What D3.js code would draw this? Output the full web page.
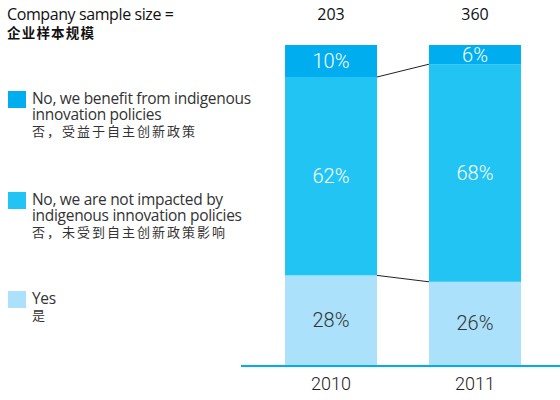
<!DOCTYPE html>
<html>
<head>
<meta charset="utf-8">
<script src="https://cdn.jsdelivr.net/npm/d3@7"></script>
<style>
  body { margin: 0; background: #fff; }
  svg { font-family: "Open Sans", "Noto Sans", sans-serif; }
  .cjk { font-family: "Noto Sans CJK SC", sans-serif; }
</style>
</head>
<body>
<div class="chart"></div>
<script>
// data
const years = ['2010', '2011']
const sampleSizes = [203, 360]
const yesVals = [28, 26]
const notImpactedVals = [62, 68]
const benefitVals = [10, 6]

const seriesKeys = ['yes', 'notImpacted', 'benefit']
const seriesColors = ['#abe1fa', '#21c4f3', '#00aeef']
const labelColors = ['#333333', '#ffffff', '#ffffff']
const legendEn = [
    ['Yes'],
    ['No, we are not impacted by', 'indigenous innovation policies'],
    ['No, we benefit from indigenous', 'innovation policies']
]
const legendZh = ['是', '否，未受到自主创新政策影响', '否，受益于自主创新政策']

const width = 560
const height = 400

const svg = d3.select('.chart')
    .append('svg')
    .attr('width', width)
    .attr('height', height)

const rows = years.map((yr, i) => ({
    year: yr,
    yes: yesVals[i],
    notImpacted: notImpactedVals[i],
    benefit: benefitVals[i]
}))
const stacked = d3.stack().keys(seriesKeys)(rows)

const x = d3.scaleBand().domain(years).range([263, 543]).paddingInner(0.361).paddingOuter(0.153)
const y = d3.scaleLinear().domain([0, 100]).range([365, 45])

// connector lines between segment boundaries
const boundaries = [stacked[0], stacked[1]]
boundaries.forEach(layer => {
    svg.append('line')
        .attr('x1', x(years[0]) + x.bandwidth())
        .attr('y1', y(layer[0][1]))
        .attr('x2', x(years[1]))
        .attr('y2', y(layer[1][1]))
        .attr('stroke', '#222')
        .attr('stroke-width', 1)
})

// bars
const layers = svg.append('g')
    .selectAll('g')
    .data(stacked)
    .enter()
    .append('g')
    .attr('fill', (d, i) => seriesColors[i])

layers.selectAll('rect')
    .data(d => d)
    .enter()
    .append('rect')
    .attr('x', d => x(d.data.year))
    .attr('y', d => y(d[1]))
    .attr('width', x.bandwidth())
    .attr('height', d => y(d[0]) - y(d[1]))

// value labels
stacked.forEach((layer, i) => {
    svg.append('g')
        .selectAll('text')
        .data(layer)
        .enter()
        .append('text')
        .attr('x', d => x(d.data.year) + x.bandwidth() / 2)
        .attr('y', d => (y(d[0]) + y(d[1])) / 2 + 7)
        .attr('text-anchor', 'middle')
        .attr('fill', labelColors[i])
        .style('font-family', 'Roboto, "Open Sans", sans-serif')
        .style('font-size', '20px')
        .style('font-weight', 300)
        .text(d => `${d[1] - d[0]}%`)
})

// baseline
svg.append('line')
    .attr('x1', 241)
    .attr('x2', width)
    .attr('y1', y(0) + 1)
    .attr('y2', y(0) + 1)
    .attr('stroke', '#00aeef')
    .attr('stroke-width', 2)

// year axis
const axis = svg.append('g')
    .attr('transform', `translate(0, ${y(0) + 2})`)
    .call(d3.axisBottom(x).tickSize(0).tickPadding(10))
axis.select('.domain').remove()
axis.selectAll('text')
    .style('font-size', '18px')
    .style('font-family', 'Roboto, "Open Sans", sans-serif')
    .style('font-weight', 300)
    .attr('fill', '#222')

// sample sizes
svg.append('g')
    .selectAll('text')
    .data(sampleSizes)
    .enter()
    .append('text')
    .attr('x', (d, i) => x(years[i]) + x.bandwidth() / 2)
    .attr('y', 20)
    .attr('text-anchor', 'middle')
    .attr('fill', '#111')
    .style('font-size', '16px')
    .text(d => d)

// title
svg.append('text')
    .attr('x', 7)
    .attr('y', 20)
    .attr('fill', '#111')
    .style('font-size', '16px')
    .style('letter-spacing', '-0.4px')
    .text('Company sample size =')
svg.append('text')
    .attr('class', 'cjk')
    .attr('x', 7)
    .attr('y', 38)
    .attr('fill', '#111')
    .style('font-size', '13.5px')
    .style('font-weight', 700)
    .style('letter-spacing', '1.2px')
    .text('企业样本规模')

// legend
const legendTops = [291, 192, 91]
const legend = svg.append('g')
    .selectAll('g')
    .data(seriesKeys)
    .enter()
    .append('g')
    .attr('transform', (d, i) => `translate(8, ${legendTops[i]})`)

legend.append('rect')
    .attr('width', 18)
    .attr('height', 17)
    .attr('fill', (d, i) => seriesColors[i])

legend.each(function (d, i) {
    const g = d3.select(this)
    legendEn[i].forEach((line, j) => {
        g.append('text')
            .attr('x', 24)
            .attr('y', 13 + j * 16)
            .attr('fill', '#333')
            .style('font-size', '15.5px')
            .style('letter-spacing', '-0.3px')
            .text(line)
    })
    g.append('text')
        .attr('class', 'cjk')
        .attr('x', 24)
        .attr('y', 13 + legendEn[i].length * 16)
        .attr('fill', '#333')
        .style('font-size', '13px')
        .style('letter-spacing', '2px')
        .text(legendZh[i])
})
</script>
</body>
</html>
